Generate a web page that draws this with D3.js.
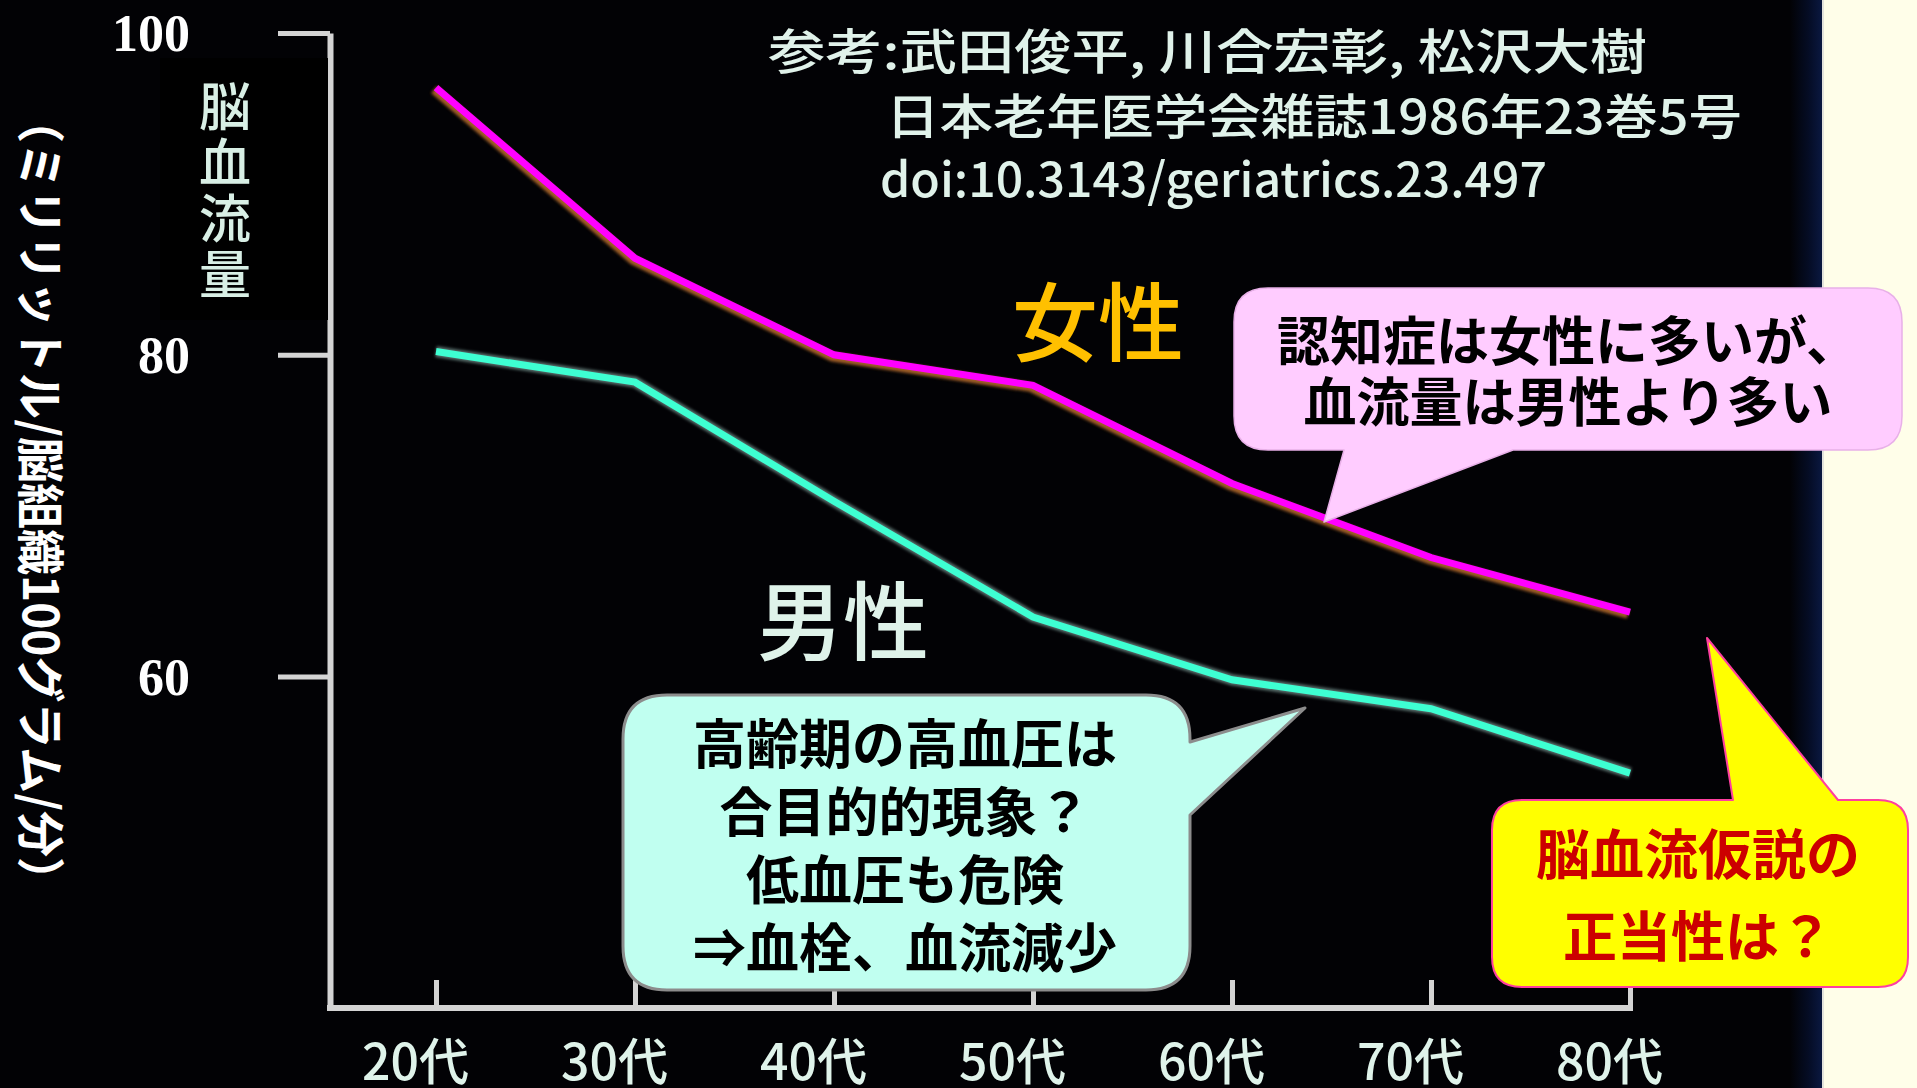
<!DOCTYPE html>
<html lang="ja">
<head>
<meta charset="utf-8">
<script src="https://cdn.jsdelivr.net/npm/d3@7/dist/d3.min.js"></script>
<style>
  html, body { margin: 0; padding: 0; background: #020205; overflow: hidden; }
  svg { display: block; }
  .jp { font-family: "Noto Sans CJK JP", "Noto Sans", sans-serif; }
</style>
</head>
<body>
<svg id="chart" width="1917" height="1088"></svg>
<script>
// Age groups on the x axis
const categories = ["20代", "30代", "40代", "50代", "60代", "70代", "80代"];
// Cerebral blood flow (ml / 100 g brain tissue / min)
const femaleFlow = [96.6, 86.0, 80.0, 78.1, 72.0, 67.4, 64.0];
const maleFlow   = [80.2, 78.3, 70.9, 63.7, 59.8, 58.0, 54.0];
const yTicks = [60, 80, 100];

const yTitle = "脳血流量";
const yUnit = "（ミリリットル/脳組織100グラム/分）";
const femaleLabel = "女性";
const maleLabel = "男性";
const citation = [
  "参考:武田俊平, 川合宏彰, 松沢大樹",
  "日本老年医学会雑誌1986年23巻5号",
  "doi:10.3143/geriatrics.23.497"
];
const noteFemale = ["認知症は女性に多いが、", "血流量は男性より多い"];
const noteMale = ["高齢期の高血圧は", "合目的的現象？", "低血圧も危険", "⇒血栓、血流減少"];
const noteQuestion = ["脳血流仮説の", "正当性は？"];

const W = 1917, H = 1088;
const svg = d3.select("#chart");
const defs = svg.append("defs");

// soft edges for axes and line shadows (wide user-space regions so thin lines keep their area)
function blurFilter(id, sd) {
  defs.append("filter").attr("id", id).attr("filterUnits", "userSpaceOnUse")
    .attr("x", -W).attr("y", -H).attr("width", 3 * W).attr("height", 3 * H)
    .append("feGaussianBlur").attr("stdDeviation", sd);
}
blurFilter("soft", 0.7);
blurFilter("glow", 1.6);

const edge = defs.append("linearGradient").attr("id", "edge").attr("x1", 0).attr("x2", 1).attr("y1", 0).attr("y2", 0);
edge.append("stop").attr("offset", 0).attr("stop-color", "#020205");
edge.append("stop").attr("offset", 0.6).attr("stop-color", "#050d26");
edge.append("stop").attr("offset", 1).attr("stop-color", "#0a1840");

// page background
svg.append("rect").attr("width", W).attr("height", H).attr("fill", "#020205");
svg.append("rect").attr("x", 1790).attr("y", 0).attr("width", 32).attr("height", H).attr("fill", "url(#edge)");
svg.append("rect").attr("x", 1822).attr("y", 0).attr("width", W - 1822).attr("height", H).attr("fill", "#fffee9");
svg.append("rect").attr("x", 1822).attr("y", 0).attr("width", 2).attr("height", H).attr("fill", "#c8c8d0").attr("opacity", 0.5);

// scales
const x = d3.scalePoint().domain(categories).range([436, 1630]);
const y = d3.scaleLinear().domain([39.4, 100]).range([1008, 33]);
const axisX = 330;

const axisColor = "#d4d4d4";

// y axis
const gy = svg.append("g").attr("transform", `translate(${axisX},0)`)
  .call(d3.axisLeft(y).tickValues(yTicks).tickSizeInner(52).tickSizeOuter(0).tickPadding(88).tickFormat(d3.format("d")));
gy.select(".domain").attr("stroke", axisColor).attr("stroke-width", 6).attr("filter", "url(#soft)");
gy.selectAll(".tick line").attr("stroke", axisColor).attr("stroke-width", 5).attr("filter", "url(#soft)");
gy.selectAll(".tick text")
  .attr("fill", "#ffffff")
  .attr("font-family", "'Liberation Serif', 'DejaVu Serif', serif")
  .attr("font-weight", "bold")
  .attr("font-size", 52)
  .attr("dy", "0.34em");

// x axis: ticks point upward from the baseline
const gx = svg.append("g").attr("transform", `translate(0,${y.range()[0]})`)
  .call(d3.axisBottom(x).tickSizeInner(-28).tickSizeOuter(0).tickPadding(0));
gx.select(".domain").remove();
gx.append("path")
  .attr("d", `M${axisX},0H${x(categories[categories.length - 1])}`)
  .attr("stroke", axisColor).attr("stroke-width", 6).attr("stroke-linecap", "square").attr("fill", "none")
  .attr("filter", "url(#soft)");
gx.selectAll(".tick line").attr("stroke", axisColor).attr("stroke-width", 5).attr("filter", "url(#soft)");
gx.selectAll(".tick text")
  .attr("class", "jp")
  .attr("fill", "#dff3ea")
  .attr("font-size", 50)
  .attr("font-weight", 500)
  .attr("y", 72).attr("dy", 0).attr("dx", -21);

// y axis title block, set vertically over a black panel
svg.append("rect").attr("x", 160).attr("y", 58).attr("width", 168).attr("height", 262).attr("fill", "#000");
svg.append("text")
  .attr("class", "jp")
  .attr("x", 225).attr("y", 80)
  .attr("writing-mode", "vertical-rl")
  .style("writing-mode", "vertical-rl")
  .attr("font-size", 52).attr("font-weight", 500)
  .attr("letter-spacing", 4)
  .attr("fill", "#d8efe5")
  .text(yTitle);

// rotated unit label
svg.append("text")
  .attr("class", "jp")
  .attr("transform", "translate(23,97) rotate(90)")
  .attr("font-size", 48).attr("font-weight", 700)
  .attr("fill", "#ffffff")
  .attr("textLength", 806).attr("lengthAdjust", "spacingAndGlyphs")
  .text(yUnit);

// citation
const citeLayout = [{x: 768, y: 69, len: 879}, {x: 886, y: 134, len: 856}, {x: 880, y: 197, len: 667}];
svg.append("g").selectAll("text").data(citation).join("text")
  .attr("class", "jp")
  .attr("x", (d, i) => citeLayout[i].x).attr("y", (d, i) => citeLayout[i].y)
  .attr("textLength", (d, i) => citeLayout[i].len).attr("lengthAdjust", "spacingAndGlyphs")
  .attr("font-size", 48).attr("font-weight", 500)
  .attr("fill", "#e0f2ea")
  .text(d => d);

// series lines
const line = d3.line().x((d, i) => x(categories[i])).y(d => y(d));

svg.append("path").datum(femaleFlow).attr("d", line)
  .attr("fill", "none").attr("stroke", "#b0682a").attr("stroke-width", 9)
  .attr("transform", "translate(-2,2)").attr("filter", "url(#glow)").attr("opacity", 0.9);
svg.append("path").datum(femaleFlow).attr("d", line)
  .attr("fill", "none").attr("stroke", "#ff00ff").attr("stroke-width", 7);

svg.append("path").datum(maleFlow).attr("d", line)
  .attr("fill", "none").attr("stroke", "#9fc7c0").attr("stroke-width", 11)
  .attr("filter", "url(#glow)").attr("opacity", 0.55);
svg.append("path").datum(maleFlow).attr("d", line)
  .attr("fill", "none").attr("stroke", "#3effd2").attr("stroke-width", 7);

// series labels
svg.append("text").attr("class", "jp").attr("x", 1098).attr("y", 355)
  .attr("text-anchor", "middle").attr("font-size", 86).attr("font-weight", 500)
  .attr("fill", "#ffc000").text(femaleLabel);
svg.append("text").attr("class", "jp").attr("x", 843).attr("y", 654)
  .attr("text-anchor", "middle").attr("font-size", 86).attr("font-weight", 500)
  .attr("fill", "#dff3ea").text(maleLabel);

// speech bubble outline: rounded box with a pointer on one edge
function bubblePath(b) {
  const {x0, y0, w, h, r, ptr} = b;
  const x1 = x0 + w, y1 = y0 + h;
  let p = `M${x0 + r},${y0}`;
  if (ptr.edge === "top") p += `L${ptr.a},${y0}L${ptr.tx},${ptr.ty}L${ptr.b},${y0}`;
  p += `L${x1 - r},${y0}Q${x1},${y0} ${x1},${y0 + r}`;
  if (ptr.edge === "right") p += `L${x1},${ptr.a}L${ptr.tx},${ptr.ty}L${x1},${ptr.b}`;
  p += `L${x1},${y1 - r}Q${x1},${y1} ${x1 - r},${y1}`;
  if (ptr.edge === "bottom") p += `L${ptr.b},${y1}L${ptr.tx},${ptr.ty}L${ptr.a},${y1}`;
  p += `L${x0 + r},${y1}Q${x0},${y1} ${x0},${y1 - r}L${x0},${y0 + r}Q${x0},${y0} ${x0 + r},${y0}Z`;
  return p;
}

function bubble(b, lines) {
  const g = svg.append("g");
  g.append("path").attr("d", bubblePath(b))
    .attr("fill", b.fill).attr("stroke", b.stroke).attr("stroke-width", b.sw).attr("stroke-linejoin", "round");
  g.selectAll("text").data(lines).join("text")
    .attr("class", "jp")
    .attr("x", b.cx).attr("y", (d, i) => b.base + i * b.lh)
    .attr("text-anchor", "middle")
    .attr("font-size", b.fs).attr("font-weight", b.fw)
    .attr("fill", b.color)
    .text(d => d);
}

bubble({x0: 1234, y0: 288, w: 668, h: 162, r: 34,
        ptr: {edge: "bottom", a: 1344, b: 1513, tx: 1324, ty: 522},
        fill: "#ffccff", stroke: "#e8b0e8", sw: 1.5,
        cx: 1568, base: 361, lh: 61, fs: 53, fw: 700, color: "#000"}, noteFemale);

bubble({x0: 623, y0: 695, w: 567, h: 295, r: 44,
        ptr: {edge: "right", a: 742, b: 815, tx: 1305, ty: 708},
        fill: "#c0fff0", stroke: "#8c8c8c", sw: 3,
        cx: 905, base: 764, lh: 68, fs: 53, fw: 700, color: "#000"}, noteMale);

bubble({x0: 1492, y0: 800, w: 416, h: 187, r: 30,
        ptr: {edge: "top", a: 1733, b: 1838, tx: 1707, ty: 638},
        fill: "#ffff00", stroke: "#ff3fa0", sw: 2,
        cx: 1698, base: 875, lh: 82, fs: 54, fw: 700, color: "#cc0000"}, noteQuestion);
</script>
</body>
</html>
